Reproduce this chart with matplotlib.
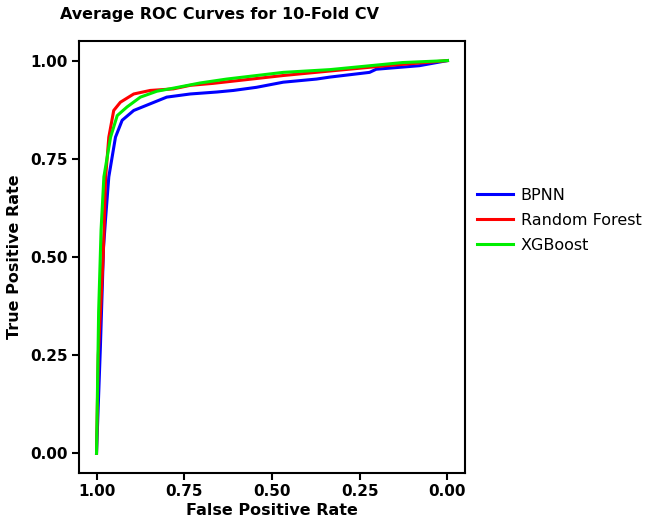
import numpy as np
import matplotlib
matplotlib.use('Agg')
import matplotlib.pyplot as plt

# Curvas ROC medias (eje x invertido, como en la figura original)
bpnn_x = [1.0, 0.989, 0.98, 0.974, 0.965, 0.946, 0.927, 0.894, 0.847, 0.80, 0.733,
          0.657, 0.61, 0.544, 0.468, 0.373, 0.335, 0.222, 0.203, 0.08, 0.0]
bpnn_y = [0.0, 0.27, 0.525, 0.60, 0.704, 0.805, 0.848, 0.873, 0.89, 0.907, 0.915,
          0.920, 0.924, 0.932, 0.945, 0.953, 0.958, 0.97, 0.978, 0.987, 1.0]

rf_x = [1.0, 0.995, 0.981, 0.974, 0.965, 0.951, 0.932, 0.894, 0.847, 0.781, 0.733,
        0.668, 0.468, 0.364, 0.174, 0.05, 0.0]
rf_y = [0.0, 0.25, 0.50, 0.704, 0.805, 0.873, 0.894, 0.915, 0.924, 0.928, 0.937,
        0.942, 0.962, 0.971, 0.987, 0.996, 1.0]

xgb_x = [1.0, 0.994, 0.987, 0.979, 0.96, 0.941, 0.913, 0.875, 0.828, 0.78, 0.705,
         0.629, 0.468, 0.335, 0.128, 0.0]
xgb_y = [0.0, 0.36, 0.57, 0.704, 0.805, 0.860, 0.882, 0.907, 0.922, 0.93, 0.943,
         0.953, 0.970, 0.977, 0.995, 1.0]

ticks = [1.00, 0.75, 0.50, 0.25, 0.00]

fig = plt.figure(figsize=(6.5, 5.25), dpi=100)
ax = fig.add_axes([0.1215, 0.099, 0.5939, 0.823])

ax.plot(bpnn_x, bpnn_y, color='#0000ff', lw=2.2, label='BPNN')
ax.plot(rf_x, rf_y, color='#ff0000', lw=2.2, label='Random Forest')
ax.plot(xgb_x, xgb_y, color='#00ee00', lw=2.2, label='XGBoost')

ax.set_xlim(1.05, -0.05)
ax.set_ylim(-0.05, 1.05)
ax.set_xticks(ticks)
ax.set_yticks(ticks)
ax.set_xticklabels(['%.2f' % t for t in ticks], fontweight='bold', fontsize=11)
ax.set_yticklabels(['%.2f' % t for t in ticks], fontweight='bold', fontsize=11)
ax.tick_params(width=1.5, length=5, pad=3)
for s in ax.spines.values():
    s.set_linewidth(1.5)

ax.set_xlabel('False Positive Rate', fontweight='bold', fontsize=11.5, labelpad=3)
ax.set_ylabel('True Positive Rate', fontweight='bold', fontsize=11.5, labelpad=6)

fig.text(0.092, 0.972, 'Average ROC Curves for 10-Fold CV', fontweight='bold',
         fontsize=11.5, ha='left', va='center')

ax.legend(loc='center left', bbox_to_anchor=(0.995, 0.585), frameon=False,
          fontsize=11.5, handlelength=2.2, handletextpad=0.5, labelspacing=0.62)

fig.savefig('out.png', dpi=100)
